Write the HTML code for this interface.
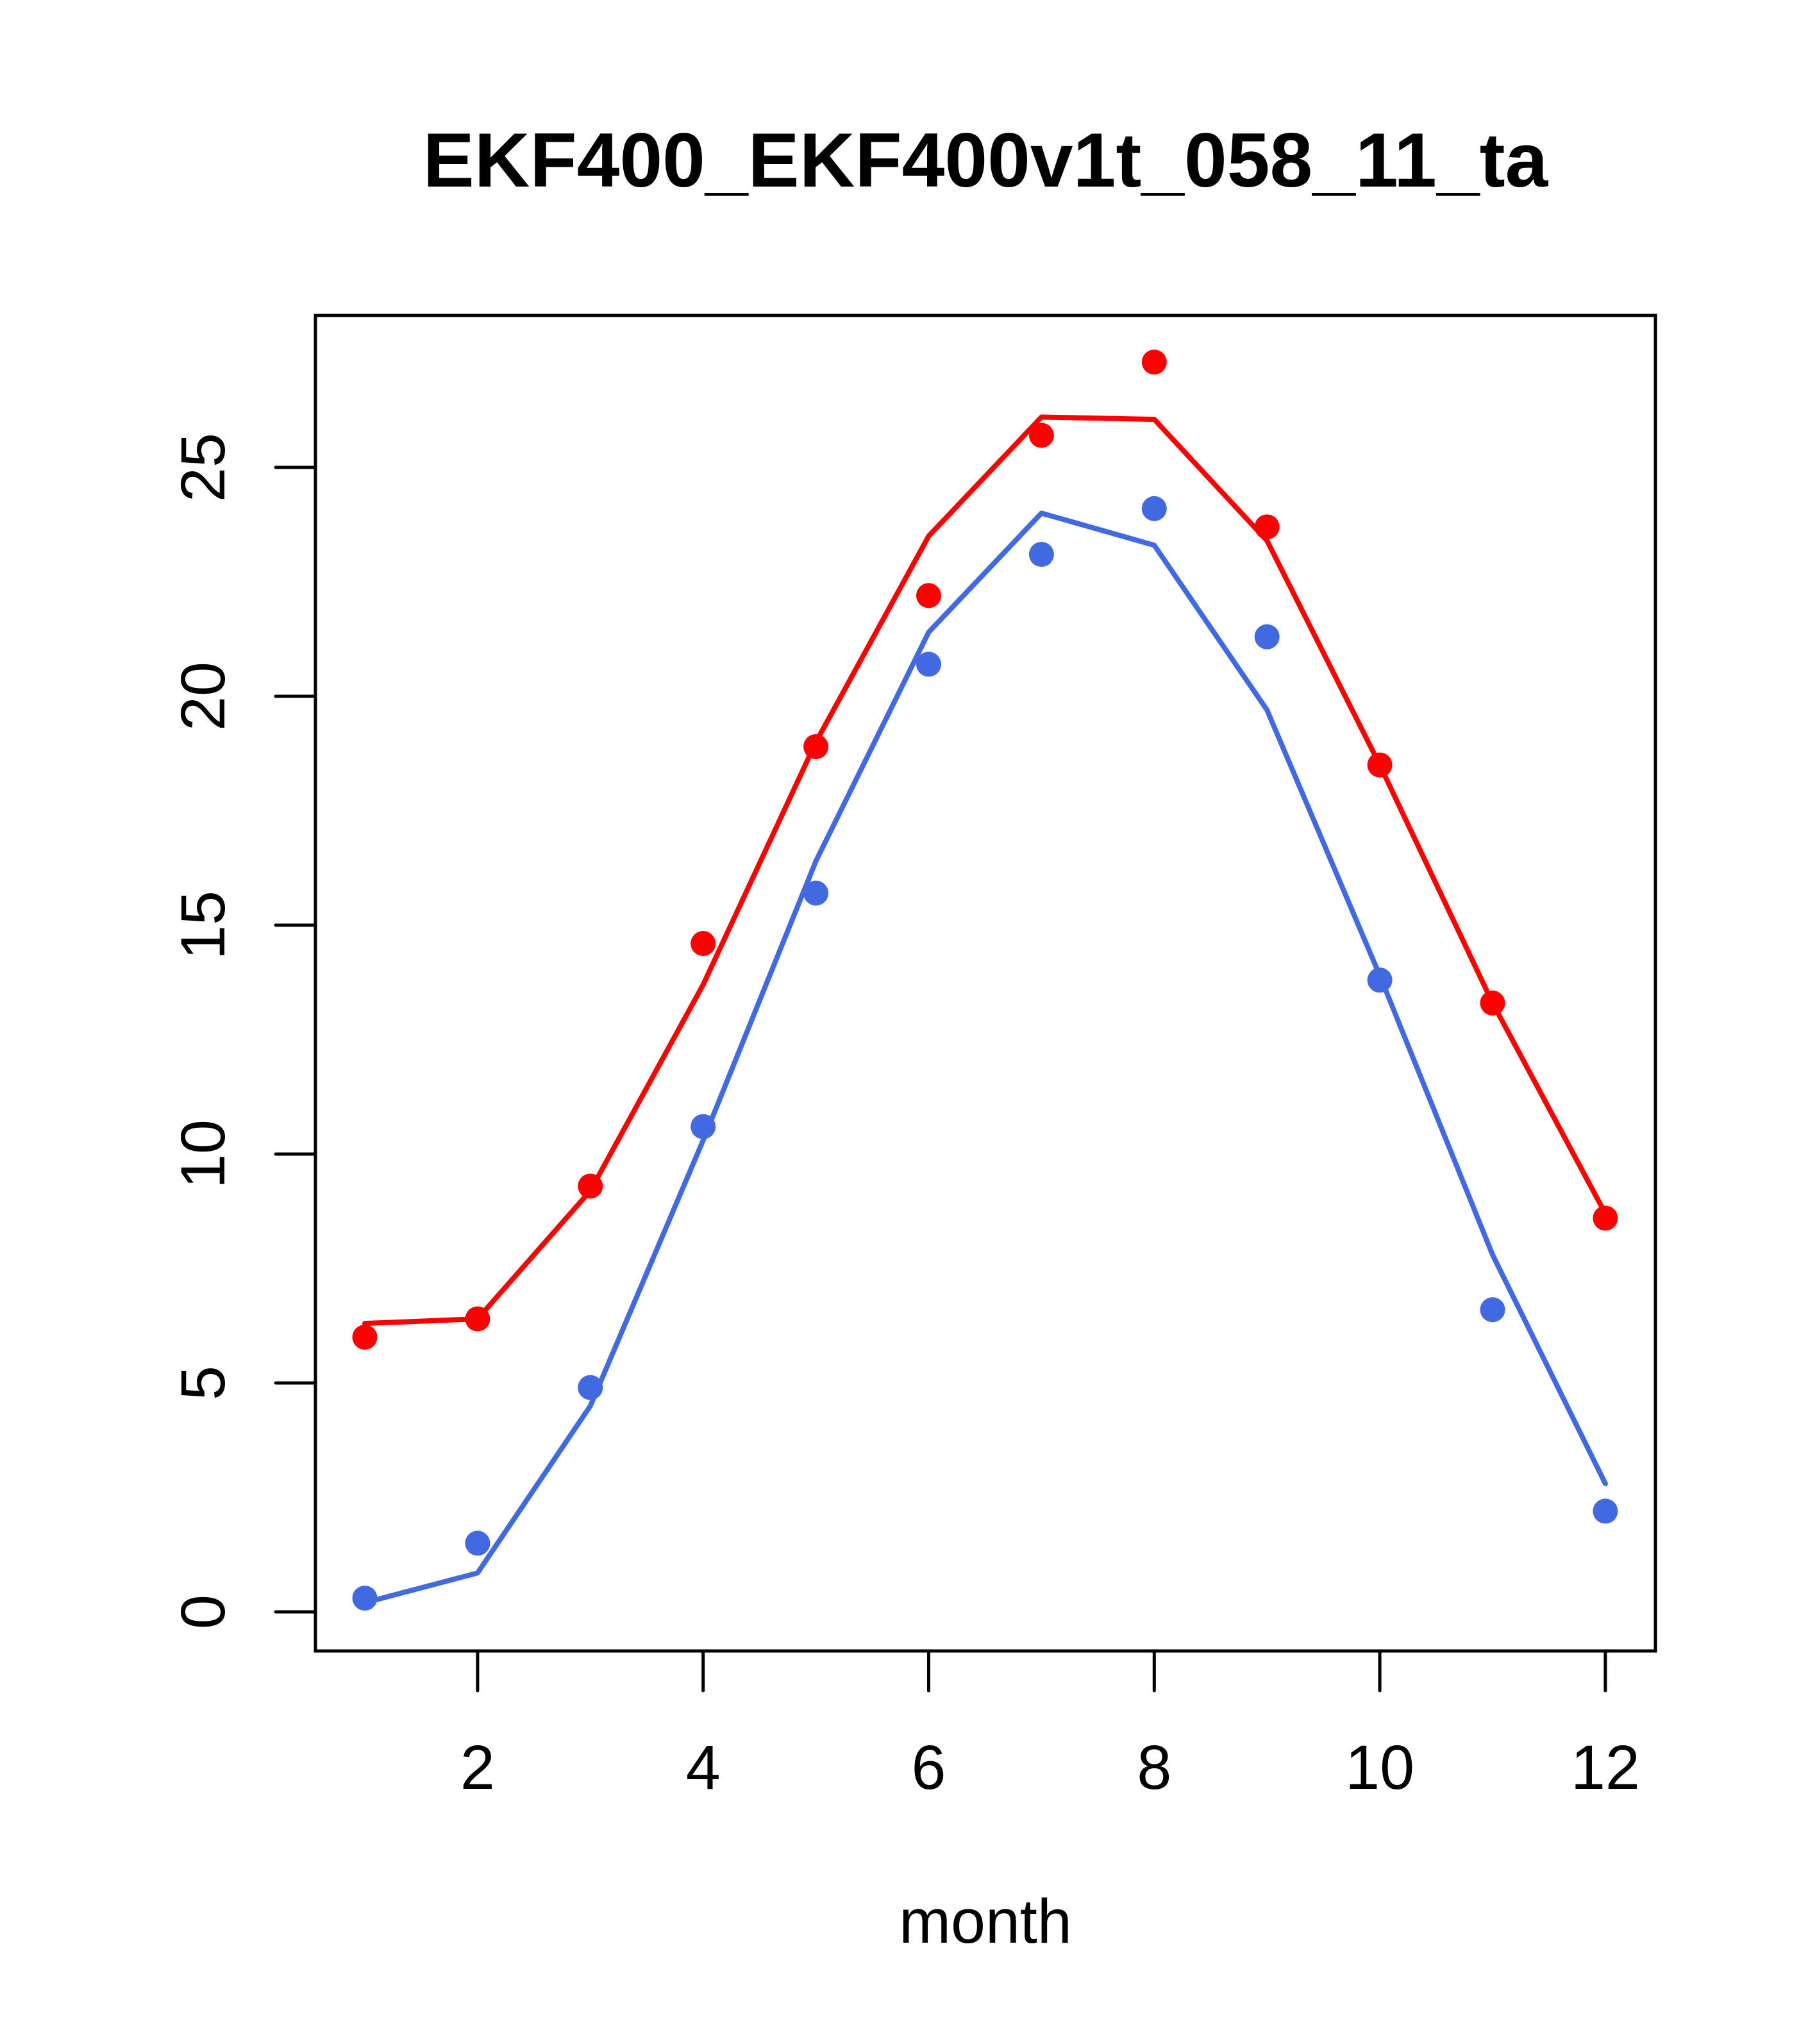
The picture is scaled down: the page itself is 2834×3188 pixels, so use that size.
<!DOCTYPE html>
<html><head><meta charset="utf-8"><style>
html,body{margin:0;padding:0;background:#fff;}
svg{display:block;font-family:"Liberation Sans",Arial,sans-serif;}
</style></head><body>
<svg id="chart" width="2834" height="3188" viewBox="0 0 2834 3188" xmlns="http://www.w3.org/2000/svg">
<rect width="2834" height="3188" fill="#fff"/>
<text x="1537" y="291" font-size="120" font-weight="bold" text-anchor="middle">EKF400_EKF400v1t_058_11_ta</text>
<text x="1537" y="3030" font-size="97" text-anchor="middle">month</text>
<g id="marks"></g>
<rect x="492" y="492" width="2090" height="2083" fill="none" stroke="#000" stroke-width="5"/>
</svg>
<script>
const months = [1,2,3,4,5,6,7,8,9,10,11,12];
const redPoints = [6.0,6.4,9.3,14.6,18.9,22.2,25.7,27.3,23.7,18.5,13.3,8.6];
const redLine = [6.3,6.4,9.2,13.7,19.0,23.5,26.1,26.05,23.4,18.5,13.3,8.7];
const bluePoints = [0.3,1.5,4.9,10.6,15.7,20.7,23.1,24.1,21.3,13.8,6.6,2.2];
const blueLine = [0.2,0.85,4.5,10.3,16.4,21.4,24.0,23.3,19.7,13.9,7.8,2.8];
const xTicks = [2,4,6,8,10,12];
const yTicks = [0,5,10,15,20,25];

const NS = "http://www.w3.org/2000/svg";
const g = document.getElementById('marks');
function xs(m){ return 569 + (m-1)*175.9; }
function ys(v){ return 2514 - v*71.4; }
function el(tag, attrs){ const e=document.createElementNS(NS,tag); for(const k in attrs) e.setAttribute(k,attrs[k]); g.appendChild(e); return e; }

xTicks.forEach(t=>{
  const l = el('line',{x1:xs(t),x2:xs(t),y1:2575,y2:2637,stroke:'#000','stroke-width':5,'stroke-linecap':'round'});
  
  
  const tx = el('text',{x:xs(t),y:2790,'font-size':97,'text-anchor':'middle'});
  tx.textContent = t;
  
  
});
yTicks.forEach(t=>{
  const l = el('line',{x1:430,x2:492,y1:ys(t),y2:ys(t),stroke:'#000','stroke-width':5,'stroke-linecap':'round'});
  
  
  const tx = el('text',{x:0,y:0,'font-size':97,'text-anchor':'middle',transform:`translate(350,${ys(t)}) rotate(-90)`});
  tx.textContent = t;
  
  
});
function series(line, pts, color, name){
  const p = el('polyline',{points:months.map((m,i)=>xs(m)+','+ys(line[i])).join(' '),fill:'none',stroke:color,'stroke-width':8,'stroke-linejoin':'round','stroke-linecap':'round'});
  
  
  months.forEach((m,i)=>{
    const c = el('circle',{cx:xs(m),cy:ys(pts[i]),r:19.5,fill:color});
    
    
  });
}
series(redLine, redPoints, '#ff0000', 'red-series');
series(blueLine, bluePoints, '#4169e1', 'blue-series');
</script>
</body></html>
